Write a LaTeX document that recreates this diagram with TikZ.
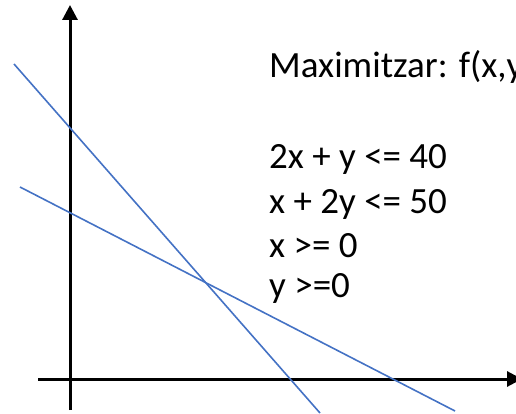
\documentclass[tikz,border=0pt]{standalone}
\usepackage{fontspec}
\setmainfont{Carlito}
\usetikzlibrary{arrows.meta}
\definecolor{lineblue}{RGB}{68,114,196}
\tikzset{
  axis/.style={line width=3pt, -{Triangle[length=15pt,width=15pt]}},
  constraint/.style={draw=lineblue, line width=1.6pt},
  lbl/.style={anchor=base west, inner sep=0pt, font=\fontsize{37}{37}\selectfont}
}
\begin{document}
\begin{tikzpicture}[x=1pt,y=1pt]
\clip (0,0) rectangle (516,413);
\useasboundingbox (0,0) rectangle (516,413);
% axes
\coordinate (ybot) at (70,3);
\coordinate (ytop) at (70,408);
\coordinate (xleft) at (38,34);
\coordinate (xright) at (522,34);
\draw[axis] (ybot) -- (ytop);
\draw[axis] (xleft) -- (xright);
% constraint lines
\coordinate (a1) at (14,349);
\coordinate (a2) at (320,0);
\coordinate (b1) at (20,226);
\coordinate (b2) at (455,2);
\draw[constraint] (a1) -- (a2);
\draw[constraint] (b1) -- (b2);
% texts
\node[lbl] (obj) at (269,335) {Maximitzar: f(x,y};
\node[lbl] (c1) at (269,245) {2x + y <= 40};
\node[lbl] (c2) at (269,200) {x + 2y <= 50};
\node[lbl] (c3) at (269,156) {x >= 0};
\node[lbl] (c4) at (269,116) {y >=0};
\end{tikzpicture}
\end{document}
